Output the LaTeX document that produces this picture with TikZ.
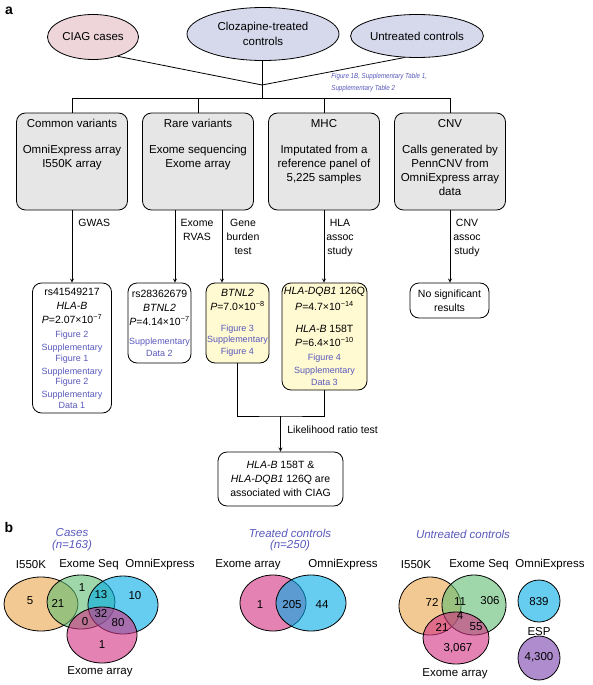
\documentclass[tikz,border=0pt]{standalone}
\usepackage{fontspec}
\setmainfont{Liberation Sans}
\newfontfamily\notefont[FakeStretch=0.85]{Liberation Sans}
\usepackage{tikz}
\usetikzlibrary{arrows, shapes, positioning, calc}
\definecolor{CasePink}{RGB}{237,213,218}
\definecolor{CtrlLilac}{RGB}{214,217,236}
\definecolor{PlatGrau}{RGB}{230,230,230}
\definecolor{HitGelb}{RGB}{255,250,210}
\definecolor{RefBlau}{RGB}{88,88,188}
\definecolor{VOrange}{RGB}{235,165,75}
\definecolor{VGruen}{RGB}{97,188,113}
\definecolor{VBlau}{RGB}{0,172,230}
\definecolor{VPink}{RGB}{210,47,130}
\definecolor{VLila}{RGB}{122,63,172}
\newcommand{\platformtext}[1]{\parbox[c][84pt][t]{108pt}{\centering #1}}
\newcommand{\refln}[1]{{\color{RefBlau}\fontsize{9}{10.5}\selectfont #1}}
\newcommand{\pval}[2]{\textit{P}=#1×10\textsuperscript{−#2}}
\tikzset{
  cohort/.style={draw, ellipse, inner sep=0, align=center, font=\fontsize{11.5}{15}\selectfont},
  platform/.style={draw, fill=PlatGrau, rounded corners=9pt, minimum width=111, minimum height=97, inner sep=0, font=\fontsize{11.5}{14}\selectfont},
  hit/.style={draw, rounded corners=9pt, inner sep=0, align=center, font=\fontsize{10.5}{10.5}\selectfont},
  steplbl/.style={inner sep=0, align=center, font=\fontsize{10.5}{14}\selectfont},
  panel/.style={inner sep=0, font=\fontsize{14}{14}\selectfont\bfseries},
  vtitle/.style={inner sep=0, text=RefBlau, font=\fontsize{11.5}{14}\selectfont\itshape},
  vlbl/.style={inner sep=0, font=\fontsize{11.5}{14}\selectfont},
  vset/.style={fill opacity=0.6},
}

\begin{document}
\begin{tikzpicture}[x=1pt, y=-1pt, >=stealth, line width=0.8pt]
\useasboundingbox (0,0) rectangle (593,685);
% a: study design
\node[panel] (pa) at (9,11) {a};
\node[cohort, fill=CasePink, minimum width=91, minimum height=45] (ciag) at (93,37) {CIAG cases};
\node[cohort, fill=CtrlLilac, minimum width=152, minimum height=53] (treated) at (263,34) {Clozapine-treated\\controls};
\node[cohort, fill=CtrlLilac, minimum width=113, minimum height=43] (untreated) at (417,36) {Untreated controls};
\coordinate (join) at (262,85);
\coordinate (split) at (262,98);
\draw (ciag.-38) -- (join) -- (untreated.-120);
\draw (treated.south -| join) -- (split);
\node[anchor=north west, inner sep=0, align=left, text=RefBlau, font=\notefont\fontsize{7.3}{11.5}\selectfont\itshape] (note) at (331,73) {Figure 1B, Supplementary Table 1,\\Supplementary Table 2};

\node[platform] (common) at (72,161.5) {\platformtext{Common variants\\[12pt]OmniExpress array\\I550K array}};
\node[platform] (rare) at (198,161.5) {\platformtext{Rare variants\\[12pt]Exome sequencing\\Exome array}};
\node[platform] (mhc) at (324,161.5) {\platformtext{MHC\\[12pt]Imputated from a\\reference panel of\\5,225 samples}};
\node[platform] (cnv) at (450,161.5) {\platformtext{CNV\\[12pt]Calls generated by\\PennCNV from\\OmniExpress array\\data}};
\foreach \b in {common,rare,mhc,cnv}
    \draw (\b.north) |- (split);

\node[hit, minimum width=79, minimum height=130] (rgwas) at (72,348) {rs41549217\\[4pt]\textit{HLA-B}\\[3.5pt]\pval{2.07}{7}\\[3.5pt]\refln{Figure 2}\\[2.5pt]\refln{Supplementary}\\\refln{Figure 1}\\[2.5pt]\refln{Supplementary}\\\refln{Figure 2}\\[2.5pt]\refln{Supplementary}\\\refln{Data 1}};
\node[hit, minimum width=63, minimum height=80] (rrvas) at (159.5,323) {rs28362679\\[4pt]\textit{BTNL2}\\[3.5pt]\pval{4.14}{7}\\[8pt]\refln{Supplementary}\\[1.5pt]\refln{Data 2}};
\node[hit, fill=HitGelb, minimum width=63, minimum height=80] (rburden) at (237.5,323) {\textit{BTNL2}\\[3pt]\pval{7.0}{8}\\[11pt]\refln{Figure 3}\\[0.5pt]\refln{Supplementary}\\[1.5pt]\refln{Figure 4}};
\node[hit, fill=HitGelb, minimum width=85, minimum height=107] (rhla) at (324.5,336.5) {\textit{HLA-DQB1} 126Q\\[3.5pt]\pval{4.7}{14}\\[12pt]\textit{HLA-B} 158T\\[3pt]\pval{6.4}{10}\\[4pt]\refln{Figure 4}\\[2.5pt]\refln{Supplementary}\\[1.5pt]\refln{Data 3}};
\node[hit, font=\fontsize{10.5}{14}\selectfont, minimum width=79, minimum height=35] (rcnv) at (449.5,300.5) {No significant\\results};

\draw[->] (common.south) -- (common.south |- rgwas.north);
\draw[->] ([xshift=-23]rare.south) -- ([xshift=15.5]rrvas.north);
\draw[->] ([xshift=24]rare.south) -- ([xshift=-15.5]rburden.north);
\draw[->] (mhc.south) -- (mhc.south |- rhla.north);
\draw[->] (cnv.south) -- (cnv.south |- rcnv.north);
\node[steplbl, anchor=north west] (gwas) at (78,219) {GWAS};
\node[steplbl, anchor=north] (exrvas) at (197,219) {Exome\\RVAS};
\node[steplbl, anchor=north] (burden) at (243,219) {Gene\\burden\\test};
\node[steplbl, anchor=north] (hlaassoc) at (340,219) {HLA\\assoc\\study};
\node[steplbl, anchor=north] (cnvassoc) at (467,219) {CNV\\assoc\\study};

\node[hit, font=\fontsize{10.5}{14}\selectfont, minimum width=125, minimum height=54] (lrt) at (280.5,479) {\textit{HLA-B} 158T \&\\\textit{HLA-DQB1} 126Q are\\associated with CIAG};
\coordinate (merge) at (280.5,416);
\draw (rburden.south) |- (merge) -| (rhla.south);
\draw[->] (merge) -- (lrt);
\node[steplbl, anchor=west] (lrtlbl) at (287,430) {Likelihood ratio test};

% b: overlap of genotyping platforms
\node[panel] (pb) at (9,527) {b};
\node[vtitle] (tcases) at (72,533) {Cases};
\node[vtitle] (ncases) at (72,546) {(\textit{n}=163)};
\node[vtitle] (ttreated) at (290,533) {Treated controls};
\node[vtitle] (ntreated) at (290,546) {(\textit{n}=250)};
\node[vtitle] (tuntreated) at (463,534) {Untreated controls};

\foreach \c/\cx/\cy/\rx/\ry in {VOrange/41/604/37/27, VGruen/81/602/34/27, VBlau/123/605/35/29, VPink/102/635/35/28,
    VPink/273/603/33/28, VBlau/311/603/35/28,
    VOrange/430/606/31/29, VGruen/474/605/32/30, VPink/456/638/33/26, VBlau/539/601/21/21, VLila/539/658/21/22}
{
    \fill[vset, \c] (\cx,\cy) ellipse [x radius=\rx, y radius=\ry];
    \draw (\cx,\cy) ellipse [x radius=\rx, y radius=\ry];
}

\foreach \n/\x/\y/\t in {li1/31/565/I550K, le1/89/565/Exome Seq, lo1/160/565/OmniExpress, la1/100/672/Exome array,
    la2/248/565/Exome array, lo2/343/565/OmniExpress,
    li3/416/565/I550K, le3/479/565/Exome Seq, lo3/550/565/OmniExpress, lp3/539/632/ESP, la3/455/674/Exome array}
    \node[vlbl] (\n) at (\x,\y) {\t};

\foreach \n/\x/\y/\t in {ca/30/601/5, cb/58/603/21, cc/82/588/1, cd/101/595/13, ce/135/596/10, cf/101/614/32, cg/85/622/0, ch/118/623/80, ci/102/645/1,
    ta/260/605/1, tb/292/605/205, tc/322/605/44,
    ua/432/602/72, ub/460/602/11, uc/490/601/306, ud/460/616/4, ue/442/627/21, uf/476/627/55, ug/458/648/{3,067}, uh/539/602/839, ui/539/657/{4,300}}
    \node[vlbl] (\n) at (\x,\y) {\t};
\end{tikzpicture}
\end{document}
